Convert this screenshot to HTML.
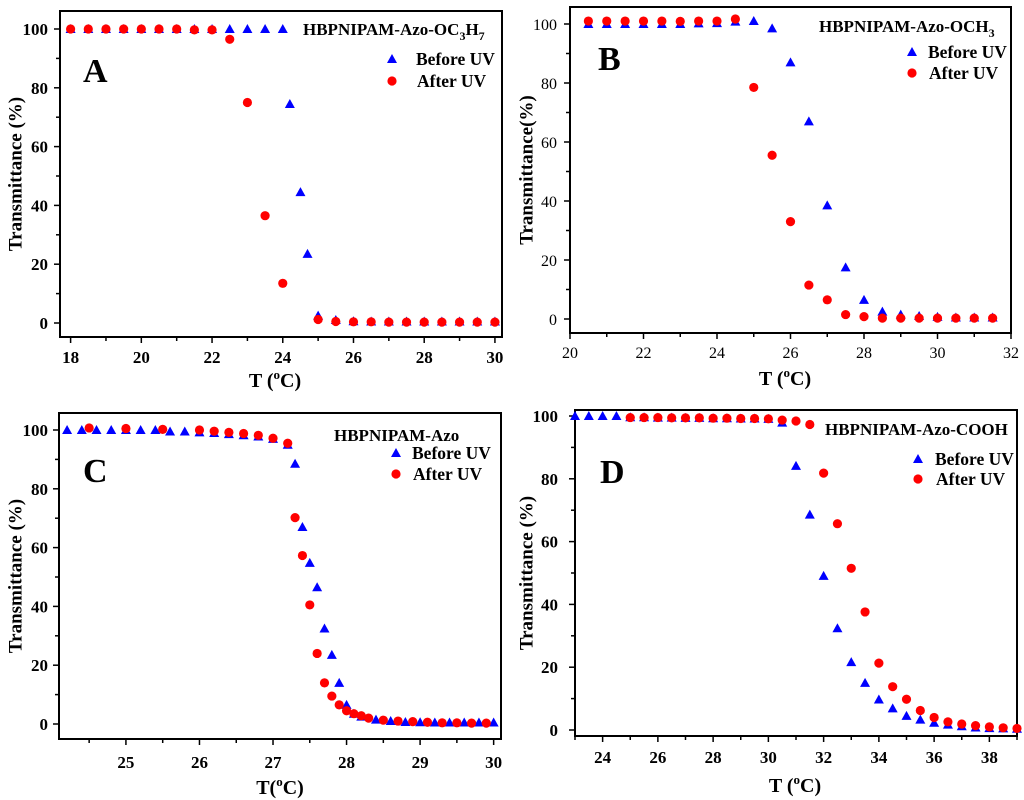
<!DOCTYPE html>
<html><head><meta charset="utf-8"><style>
html,body{margin:0;padding:0;background:#fff;}
svg{display:block;font-family:"Liberation Serif",serif;}
</style></head>
<body>
<svg id="chart" width="1024" height="800" viewBox="0 0 1024 800" xmlns="http://www.w3.org/2000/svg"></svg>
<script>
// Panel A data
const aBeforeX=[18,18.5,19,19.5,20,20.5,21,21.5,22,22.5,23,23.5,24,24.2,24.5,24.7,25,25.5,26,26.5,27,27.5,28,28.5,29,29.5,30];
const aBeforeY=[100,100,100,100,100,100,100,100,100,100,100,100,100,74.5,44.5,23.5,2.5,1,0.6,0.5,0.5,0.5,0.5,0.5,0.5,0.5,0.5];
const aAfterX=[18,18.5,19,19.5,20,20.5,21,21.5,22,22.5,23,23.5,24,25,25.5,26,26.5,27,27.5,28,28.5,29,29.5,30];
const aAfterY=[100,100,100,100,100,100,100,99.7,99.7,96.5,75,36.5,13.5,1.2,0.5,0.4,0.4,0.3,0.3,0.3,0.3,0.3,0.3,0.3];
// Panel B data
const bBeforeX=[20.5,21,21.5,22,22.5,23,23.5,24,24.5,25,25.5,26,26.5,27,27.5,28,28.5,29,29.5,30,30.5,31,31.5];
const bBeforeY=[100,100,100,100,100,100,100.2,100.3,100.8,101,98.5,87,67,38.5,17.5,6.5,2.5,1.5,1,0.7,0.5,0.5,0.5];
const bAfterX=[20.5,21,21.5,22,22.5,23,23.5,24,24.5,25,25.5,26,26.5,27,27.5,28,28.5,29,29.5,30,30.5,31,31.5];
const bAfterY=[101,101,101,101,101,100.9,101,101,101.7,78.5,55.5,33,11.5,6.5,1.5,0.8,0.3,0.3,0.3,0.3,0.3,0.3,0.3];
// Panel C data
const cBeforeX=[24.2,24.4,24.6,24.8,25,25.2,25.4,25.6,25.8,26,26.2,26.4,26.6,26.8,27,27.2,27.3,27.4,27.5,27.6,27.7,27.8,27.9,28,28.1,28.2,28.4,28.6,28.8,29,29.2,29.4,29.6,29.8,30];
const cBeforeY=[100,100,100,100,100,100,100,99.5,99.5,99.2,99,98.6,98.2,97.8,97,95,88.5,67,54.8,46.5,32.5,23.5,14,6.5,3.5,2.5,1.5,1,0.7,0.6,0.5,0.5,0.5,0.5,0.5];
const cAfterX=[24.5,25,25.5,26,26.2,26.4,26.6,26.8,27,27.2,27.3,27.4,27.5,27.6,27.7,27.8,27.9,28,28.1,28.2,28.3,28.5,28.7,28.9,29.1,29.3,29.5,29.7,29.9];
const cAfterY=[100.7,100.5,100.2,100,99.6,99.2,98.8,98.2,97.2,95.5,70.2,57.3,40.5,24,14,9.5,6.5,4.5,3.5,2.8,2,1.3,1,0.8,0.6,0.4,0.4,0.3,0.3];
// Panel D data
const dBeforeX=[23,23.5,24,24.5,25,25.5,26,26.5,27,27.5,28,28.5,29,29.5,30,30.5,31,31.5,32,32.5,33,33.5,34,34.5,35,35.5,36,36.5,37,37.5,38,38.5,39];
const dBeforeY=[100,100,100,100,99.6,99.6,99.5,99.5,99.4,99.4,99.3,99.3,99.2,99.2,99.1,97.9,84.1,68.6,49.1,32.4,21.6,15,9.7,6.9,4.5,3.3,2.3,1.7,1.2,0.8,0.6,0.5,0.4];
const dAfterX=[25,25.5,26,26.5,27,27.5,28,28.5,29,29.5,30,30.5,31,31.5,32,32.5,33,33.5,34,34.5,35,35.5,36,36.5,37,37.5,38,38.5,39];
const dAfterY=[99.5,99.5,99.5,99.4,99.4,99.4,99.3,99.3,99.2,99.2,99.1,98.7,98.4,97.3,81.8,65.7,51.5,37.6,21.3,13.8,9.8,6.2,4,2.6,1.9,1.4,1,0.7,0.5];
const yTicks=[0,20,40,60,80,100];
const aXTicks=[18,20,22,24,26,28,30];
const bXTicks=[20,22,24,26,28,30,32];
const cXTicks=[25,26,27,28,29,30];
const dXTicks=[24,26,28,30,32,34,36,38];

const NS="http://www.w3.org/2000/svg";
const svg=document.getElementById('chart');
function mk(tag,attrs,parent,text){const e=document.createElementNS(NS,tag);for(const k in attrs)e.setAttribute(k,attrs[k]);if(text!==undefined)e.textContent=text;(parent||svg).appendChild(e);return e;}

const panels=[
 {id:'a',L:60,R:502,T:11,B:337,xmin:17.7,xmax:30.2,y0:323,y100:29,xt:aXTicks,minorStep:1,bold:true,
  bx:aBeforeX,by:aBeforeY,ax:aAfterX,ay:aAfterY,letter:'A',lx:83,ly:82,title:['HBPNIPAM-Azo-OC','3','H','7'],tx:303,ty:35,
  legX:392,legTY:59,legCY:81,legTextX:416,xl:363,xtitleX:275,xtitleY:387,ytX:16,ylab:'Transmittance (%)',ytickR:48,xtitle:'T ('},
 {id:'b',L:570,R:1011,T:7,B:333,xmin:20,xmax:32,y0:319,y100:24,xt:bXTicks,minorStep:1,bold:false,
  bx:bBeforeX,by:bBeforeY,ax:bAfterX,ay:bAfterY,letter:'B',lx:598,ly:70,title:['HBPNIPAM-Azo-OCH','3'],tx:819,ty:32,
  legX:912,legTY:52,legCY:73,legTextX:928,xl:358,xtitleX:785,xtitleY:385,ytX:527,ylab:'Transmittance(%)',ytickR:557,xtitle:'T ('},
 {id:'c',L:59,R:501,T:413,B:739,xmin:24.09,xmax:30.1,y0:724,y100:430,xt:cXTicks,minorStep:0.5,bold:true,
  bx:cBeforeX,by:cBeforeY,ax:cAfterX,ay:cAfterY,letter:'C',lx:83,ly:482,title:['HBPNIPAM-Azo'],tx:334,ty:441,
  legX:396,legTY:453,legCY:474,legTextX:412,xl:768,xtitleX:280,xtitleY:794,ytX:16,ylab:'Transmittance (%)',ytickR:48,xtitle:'T('},
 {id:'d',L:575,R:1017,T:410,B:736,xmin:23,xmax:39,y0:730,y100:416,xt:dXTicks,minorStep:1,bold:true,
  bx:dBeforeX,by:dBeforeY,ax:dAfterX,ay:dAfterY,letter:'D',lx:600,ly:483,title:['HBPNIPAM-Azo-COOH'],tx:825,ty:435,
  legX:918,legTY:459,legCY:479,legTextX:935,xl:763,xtitleX:795,xtitleY:792,ytX:527,ylab:'Transmittance (%)',ytickR:558,xtitle:'T ('}
];

panels.forEach(p=>{
  const g=mk('g',{});
  
  
  const xs=v=>p.L+(v-p.xmin)/(p.xmax-p.xmin)*(p.R-p.L);
  const ys=v=>p.y0+(v/100)*(p.y100-p.y0);
  const fw=p.bold?'bold':'normal';
  const fr=mk('rect',{x:p.L,y:p.T,width:p.R-p.L,height:p.B-p.T,fill:'none',stroke:'#000','stroke-width':2},g);
  
  
  for(let v=0;v<=100;v+=10){
    const major=v%20===0;
    mk('line',{x1:p.L,x2:p.L-(major?6:4),y1:ys(v),y2:ys(v),stroke:'#000','stroke-width':1.5},g);
  }
  yTicks.forEach(v=>{
    const t=mk('text',{x:p.ytickR,y:ys(v)+6,'text-anchor':'end','font-size':p.bold?17:16,'font-weight':fw},g,String(v));
    
    
  });
  const first=Math.ceil(p.xmin/p.minorStep)*p.minorStep;
  for(let v=first;v<=p.xmax+1e-6;v+=p.minorStep){
    const isMajor=p.xt.some(m=>Math.abs(m-v)<1e-6);
    mk('line',{x1:xs(v),x2:xs(v),y1:p.B,y2:p.B+(isMajor?6:4),stroke:'#000','stroke-width':1.5},g);
  }
  p.xt.forEach(v=>{
    const t=mk('text',{x:xs(v),y:p.xl,'text-anchor':'middle','font-size':p.bold?17:16,'font-weight':fw},g,String(v));
    
    
  });
  const xt=mk('text',{x:p.xtitleX,y:p.xtitleY,'text-anchor':'middle','font-size':20,'font-weight':'bold'},g);
  
  
  mk('tspan',{},xt,p.xtitle);
  mk('tspan',{dy:-8,'font-size':13},xt,'o');
  mk('tspan',{dy:8},xt,'C)');
  const yt=mk('text',{x:p.ytX,y:(p.T+p.B)/2,'text-anchor':'middle','font-size':19,'font-weight':'bold',transform:`rotate(-90 ${p.ytX} ${(p.T+p.B)/2})`,'dominant-baseline':'central'},g,p.ylab);
  
  
  p.bx.forEach((x,i)=>{
    const cx=xs(x),cy=ys(p.by[i]);
    const m=mk('polygon',{points:`${cx-5},${cy+4} ${cx+5},${cy+4} ${cx},${cy-5}`,fill:'#0000ff'},g);
    
    
  });
  p.ax.forEach((x,i)=>{
    const m=mk('circle',{cx:xs(x),cy:ys(p.ay[i]),r:4.6,fill:'#ff0000'},g);
    
    
  });
  const L=mk('text',{x:p.lx,y:p.ly,'font-size':34,'font-weight':'bold'},g,p.letter);
  
  
  const tt=mk('text',{x:p.tx,y:p.ty,'font-size':17,'font-weight':'bold'},g);
  
  
  p.title.forEach((s,i)=>{
    if(i%2===1) mk('tspan',{dy:5,'font-size':12},tt,s);
    else mk('tspan',i>0?{dy:-5}:{},tt,s);
  });
  const lg=mk('g',{},g);
  
  
  const lx=p.legX,ty=p.legTY,cy=p.legCY;
  const lt=mk('polygon',{points:`${lx-5},${ty+4} ${lx+5},${ty+4} ${lx},${ty-5}`,fill:'#0000ff'},lg);
  
  
  const t1=mk('text',{x:p.legTextX,y:ty+6,'font-size':17.5,'font-weight':'bold'},lg,'Before UV');
  
  
  const lc=mk('circle',{cx:lx,cy:cy,r:4.6,fill:'#ff0000'},lg);
  
  
  const t2=mk('text',{x:p.legTextX+1,y:cy+6,'font-size':17.5,'font-weight':'bold'},lg,'After UV');
  
  
});
</script>
</body></html>
